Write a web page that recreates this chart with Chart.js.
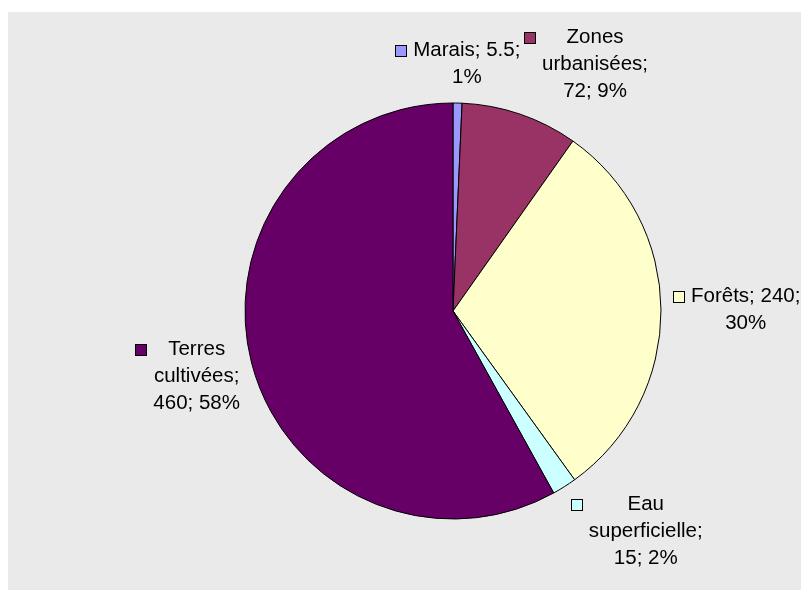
<!DOCTYPE html>
<html>
<head>
<meta charset="utf-8">
<script src="https://cdn.jsdelivr.net/npm/chart.js@4"></script>
<style>
  html, body { margin: 0; padding: 0; background: #fff; }
  #wrap { width: 801px; height: 590px; }
</style>
</head>
<body>
<div id="wrap"><canvas id="c" width="801" height="590"></canvas></div>
<script>
// Occupation du sol (surfaces)
const categories = ['Marais', 'Zones urbanisées', 'Forêts', 'Eau superficielle', 'Terres cultivées'];
const values = [5.5, 72, 240, 15, 460];
const colors = ['#9999FF', '#993366', '#FFFFCC', '#CCFFFF', '#660066'];

const FONT = '20.5px "Liberation Sans", Arial, sans-serif';
const LINE_H = 27;
const WRAP_W = 122;
const MARK = 11;
const MARK_GAP = 7;
const LABEL_GAP = 12;

function wrapText(ctx, text, maxW) {
  const words = text.split(' ');
  const lines = [];
  let cur = '';
  for (const w of words) {
    const test = cur ? cur + ' ' + w : w;
    if (cur && ctx.measureText(test).width > maxW) {
      lines.push(cur);
      cur = w;
    } else {
      cur = test;
    }
  }
  if (cur) lines.push(cur);
  return lines;
}

const backdrop = {
  id: 'backdrop',
  beforeDraw(chart) {
    const ctx = chart.ctx;
    ctx.save();
    ctx.fillStyle = '#FFFFFF';
    ctx.fillRect(0, 0, chart.width, chart.height);
    ctx.fillStyle = '#EAEAEA';
    ctx.fillRect(8, 12, chart.width - 8, chart.height - 12);
    ctx.restore();
  }
};

// Étiquettes : catégorie; valeur; pourcentage, avec repère de couleur
const sliceLabels = {
  id: 'sliceLabels',
  afterDatasetsDraw(chart) {
    const ctx = chart.ctx;
    const meta = chart.getDatasetMeta(0);
    const data = chart.data.datasets[0].data;
    const total = data.reduce((a, b) => a + b, 0);
    ctx.save();
    ctx.font = FONT;
    ctx.textBaseline = 'middle';
    ctx.textAlign = 'center';
    meta.data.forEach((arc, i) => {
      const p = arc.getProps(['x', 'y', 'startAngle', 'endAngle', 'outerRadius'], true);
      const mid = (p.startAngle + p.endAngle) / 2;
      const dx = Math.cos(mid), dy = Math.sin(mid);
      const pct = Math.round(data[i] / total * 100);
      const text = categories[i] + '; ' + String(data[i]) + '; ' + pct + '%';
      const lines = wrapText(ctx, text, WRAP_W);
      const textW = Math.max(...lines.map(l => ctx.measureText(l).width));
      const w = MARK + MARK_GAP + textW;
      const h = lines.length * LINE_H;
      const ax = p.x + (p.outerRadius + LABEL_GAP) * dx;
      const ay = p.y + (p.outerRadius + LABEL_GAP) * dy;
      let left;
      if (dx > 0.1) left = ax;
      else if (dx < -0.1) left = ax - w;
      else left = ax - w / 2;
      const top = ay + dy * h / 2 - h / 2;
      const textCx = left + MARK + MARK_GAP + textW / 2;
      const firstY = top + LINE_H / 2;
      // repère
      const mx = Math.round(left) + 0.5, my = Math.round(firstY - MARK / 2) + 0.5;
      ctx.fillStyle = colors[i];
      ctx.fillRect(mx, my, MARK, MARK);
      ctx.strokeStyle = '#000';
      ctx.lineWidth = 1;
      ctx.strokeRect(mx, my, MARK, MARK);
      ctx.fillStyle = '#000';
      lines.forEach((l, k) => ctx.fillText(l, textCx, firstY + k * LINE_H));
    });
    ctx.restore();
  }
};

new Chart(document.getElementById('c'), {
  type: 'pie',
  data: {
    labels: categories,
    datasets: [{
      data: values,
      backgroundColor: colors,
      borderColor: '#000000',
      borderWidth: 1
    }]
  },
  options: {
    responsive: false,
    animation: false,
    radius: 208,
    layout: { padding: { left: 140, right: 35, top: 50, bottom: 18 } },
    plugins: {
      legend: { display: false },
      tooltip: { enabled: false }
    }
  },
  plugins: [backdrop, sliceLabels]
});
</script>
</body>
</html>
